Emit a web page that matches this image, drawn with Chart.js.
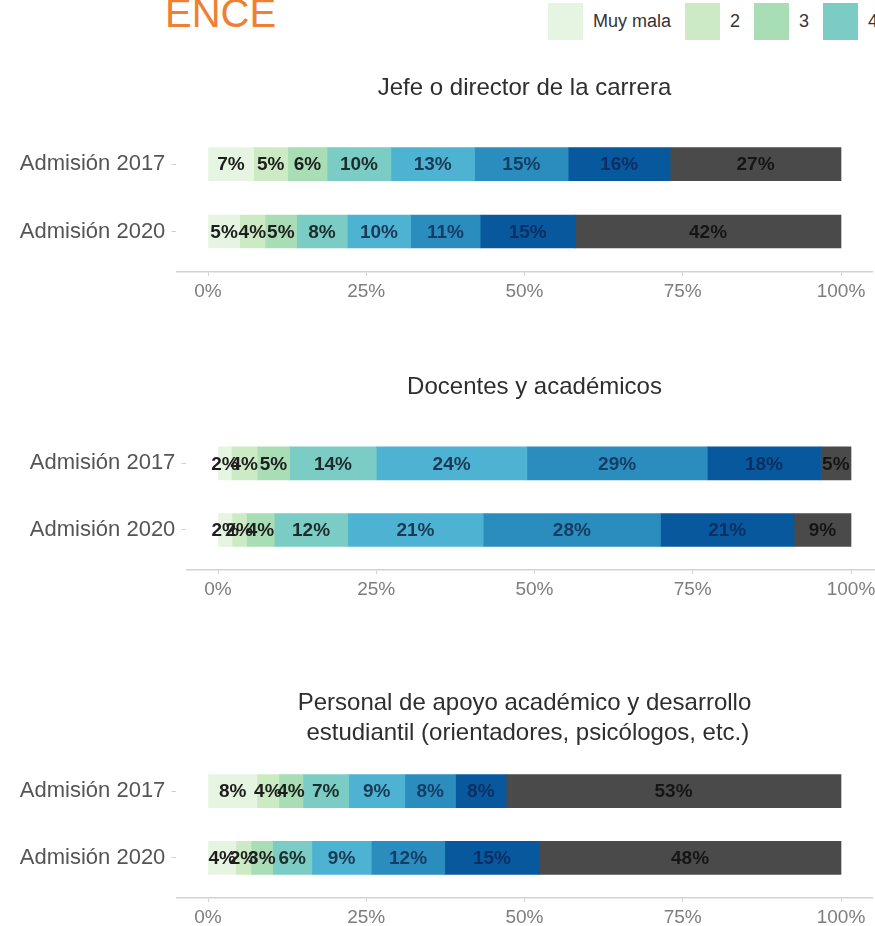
<!DOCTYPE html>
<html>
<head>
<meta charset="utf-8">
<script src="https://cdn.jsdelivr.net/npm/chart.js@4.4.1/dist/chart.umd.min.js"></script>
<style>
  html, body { margin: 0; padding: 0; background: #fff; overflow: hidden; }
  body { width: 875px; height: 926px; position: relative; font-family: "Liberation Sans", Arial, sans-serif; }
  canvas { position: absolute; left: 0; }
  #heading { position: absolute; left: 165px; top: -7px; font-size: 40px; line-height: 1; color: #ef7f33; white-space: nowrap; }
  #legend { position: absolute; left: 548px; top: 3px; display: flex; align-items: center; width: max-content; }
  .key { flex: none; width: 35px; height: 37px; margin-right: 10px; }
  .keyText { flex: none; font-size: 18px; color: #333; margin-right: 14px; }
</style>
</head>
<body>
<div id="heading">ENCE</div>
<div id="legend"></div>
<canvas id="panel1"></canvas>
<canvas id="panel2"></canvas>
<canvas id="panel3"></canvas>
<script>
// rating scale (only the first four are inside the picture)
const seriesNames = ["Muy mala", "2", "3", "4", "5", "6", "Muy buena", "No sabe"];
const categories = ["Admisión 2017", "Admisión 2020"];
const tickValues = [0, 25, 50, 75, 100];

const titleJefe = ["Jefe o director de la carrera"];
const titleDocentes = ["Docentes y académicos"];
const titleApoyo = ["Personal de apoyo académico y desarrollo", " estudiantil (orientadores, psicólogos, etc.)"];

// percentages, one value per series
const jefe2017 = [7.2, 5.4, 6.2, 10.1, 13.2, 14.8, 16.1, 27.0];
const jefe2020 = [5, 4, 5, 8, 10, 11, 15, 42];
const docentes2017 = [2.1, 4.1, 5.1, 13.7, 23.8, 28.5, 17.9, 4.8];
const docentes2020 = [2.2, 2.3, 4.4, 11.6, 21.4, 28.0, 21.1, 9.0];
const apoyo2017 = [7.7, 3.5, 3.8, 7.2, 8.9, 8.0, 8.0, 52.9];
const apoyo2020 = [4.4, 2.4, 3.4, 6.2, 9.4, 11.6, 14.9, 47.7];

const colors = ["#e6f5e1", "#ccebc5", "#a8ddb5", "#7bccc4", "#4eb3d3", "#2b8cbe", "#08589e", "#4a4a4a"];
const labelColors = ["#1e1e1e", "#1e1e1e", "#1e1e1e", "#1d2d2d", "#1b3a55", "#143e66", "#0d2f63", "#151515"];
const fontFamily = '"Liberation Sans", Arial, sans-serif';

// legend
const legend = document.getElementById("legend");
seriesNames.forEach((name, i) => {
    legend.innerHTML += `<div class="key" style="background:${colors[i]}"></div><div class="keyText">${name}</div>`;
});

const barLabels = {
    id: "barLabels",
    afterDatasetsDraw(chart) {
        const ctx = chart.ctx;
        ctx.save();
        ctx.font = "bold 19px " + fontFamily;
        ctx.textAlign = "center";
        ctx.textBaseline = "middle";
        chart.data.datasets.forEach((ds, i) => {
            chart.getDatasetMeta(i).data.forEach((bar, j) => {
                ctx.fillStyle = labelColors[i];
                ctx.fillText(Math.round(ds.data[j].x) + "%", (bar.x + bar.base) / 2, bar.y + 1);
            });
        });
        ctx.restore();
    }
};

function makePanel(id, p) {
    const pxPer = (p.right100 - p.left0) / 100;
    const areaLeft = p.left0 - 5 * pxPer;
    const areaRight = p.right100 + 5 * pxPer;
    const width = Math.max(875, Math.ceil(areaRight) + 3);
    const axisH = 40;
    const lineH = 30;

    const canvas = document.getElementById(id);
    canvas.width = width;
    canvas.height = Math.round(p.areaBottom - p.top + axisH);
    canvas.style.top = p.top + "px";

    const padTop = p.titleY - p.top - lineH / 2;
    const padBottom = p.areaTop - p.top - padTop - lineH * p.title.length;

    const datasets = seriesNames.map((name, s) => ({
        label: name,
        data: [{ y: 1, x: p.a[s] }, { y: 2, x: p.b[s] }],
        backgroundColor: colors[s],
        borderWidth: 0,
        barThickness: 33
    }));

    new Chart(canvas, {
        type: "bar",
        data: { datasets: datasets },
        options: {
            indexAxis: "y",
            responsive: false,
            animation: false,
            devicePixelRatio: 1,
            layout: { padding: { left: 0, top: 0, bottom: 0, right: width - areaRight } },
            plugins: {
                legend: { display: false },
                tooltip: { enabled: false },
                title: {
                    display: true,
                    fullSize: false,
                    text: p.title,
                    color: "#2e2e2e",
                    font: { family: fontFamily, size: 24, weight: "normal", lineHeight: lineH / 24 },
                    padding: { top: padTop, bottom: padBottom }
                }
            },
            scales: {
                x: {
                    type: "linear",
                    stacked: true,
                    min: -5,
                    max: 105,
                    afterBuildTicks: scale => { scale.ticks = tickValues.map(v => ({ value: v })); },
                    afterFit: scale => { scale.height = axisH; },
                    ticks: {
                        callback: v => v + "%",
                        color: "#7d7d7d",
                        padding: 4,
                        font: { family: fontFamily, size: 19 }
                    },
                    grid: { drawOnChartArea: false, tickLength: 4, color: "#d2d2d2" },
                    border: { display: true, color: "#d2d2d2", width: 1.5 }
                },
                y: {
                    type: "linear",
                    stacked: true,
                    reverse: true,
                    offset: false,
                    min: 0.4,
                    max: 2.6,
                    afterBuildTicks: scale => { scale.ticks = categories.map((c, i) => ({ value: i + 1 })); },
                    afterFit: scale => { scale.width = areaLeft; },
                    ticks: {
                        callback: v => categories[v - 1],
                        color: "#555",
                        padding: 6,
                        font: { family: fontFamily, size: 22 }
                    },
                    grid: { offset: false, drawOnChartArea: false, tickLength: 5, color: "#d2d2d2" },
                    border: { display: false }
                }
            }
        },
        plugins: [barLabels]
    });
}

makePanel("panel1", { title: titleJefe, a: jefe2017, b: jefe2020, top: 60, titleY: 88, areaTop: 123.6, areaBottom: 271.5, left0: 208, right100: 841 });
makePanel("panel2", { title: titleDocentes, a: docentes2017, b: docentes2020, top: 340, titleY: 387, areaTop: 423.3, areaBottom: 570, left0: 218, right100: 851 });
makePanel("panel3", { title: titleApoyo, a: apoyo2017, b: apoyo2020, top: 660, titleY: 703, areaTop: 751.1, areaBottom: 897.5, left0: 208, right100: 841 });
</script>
</body>
</html>
